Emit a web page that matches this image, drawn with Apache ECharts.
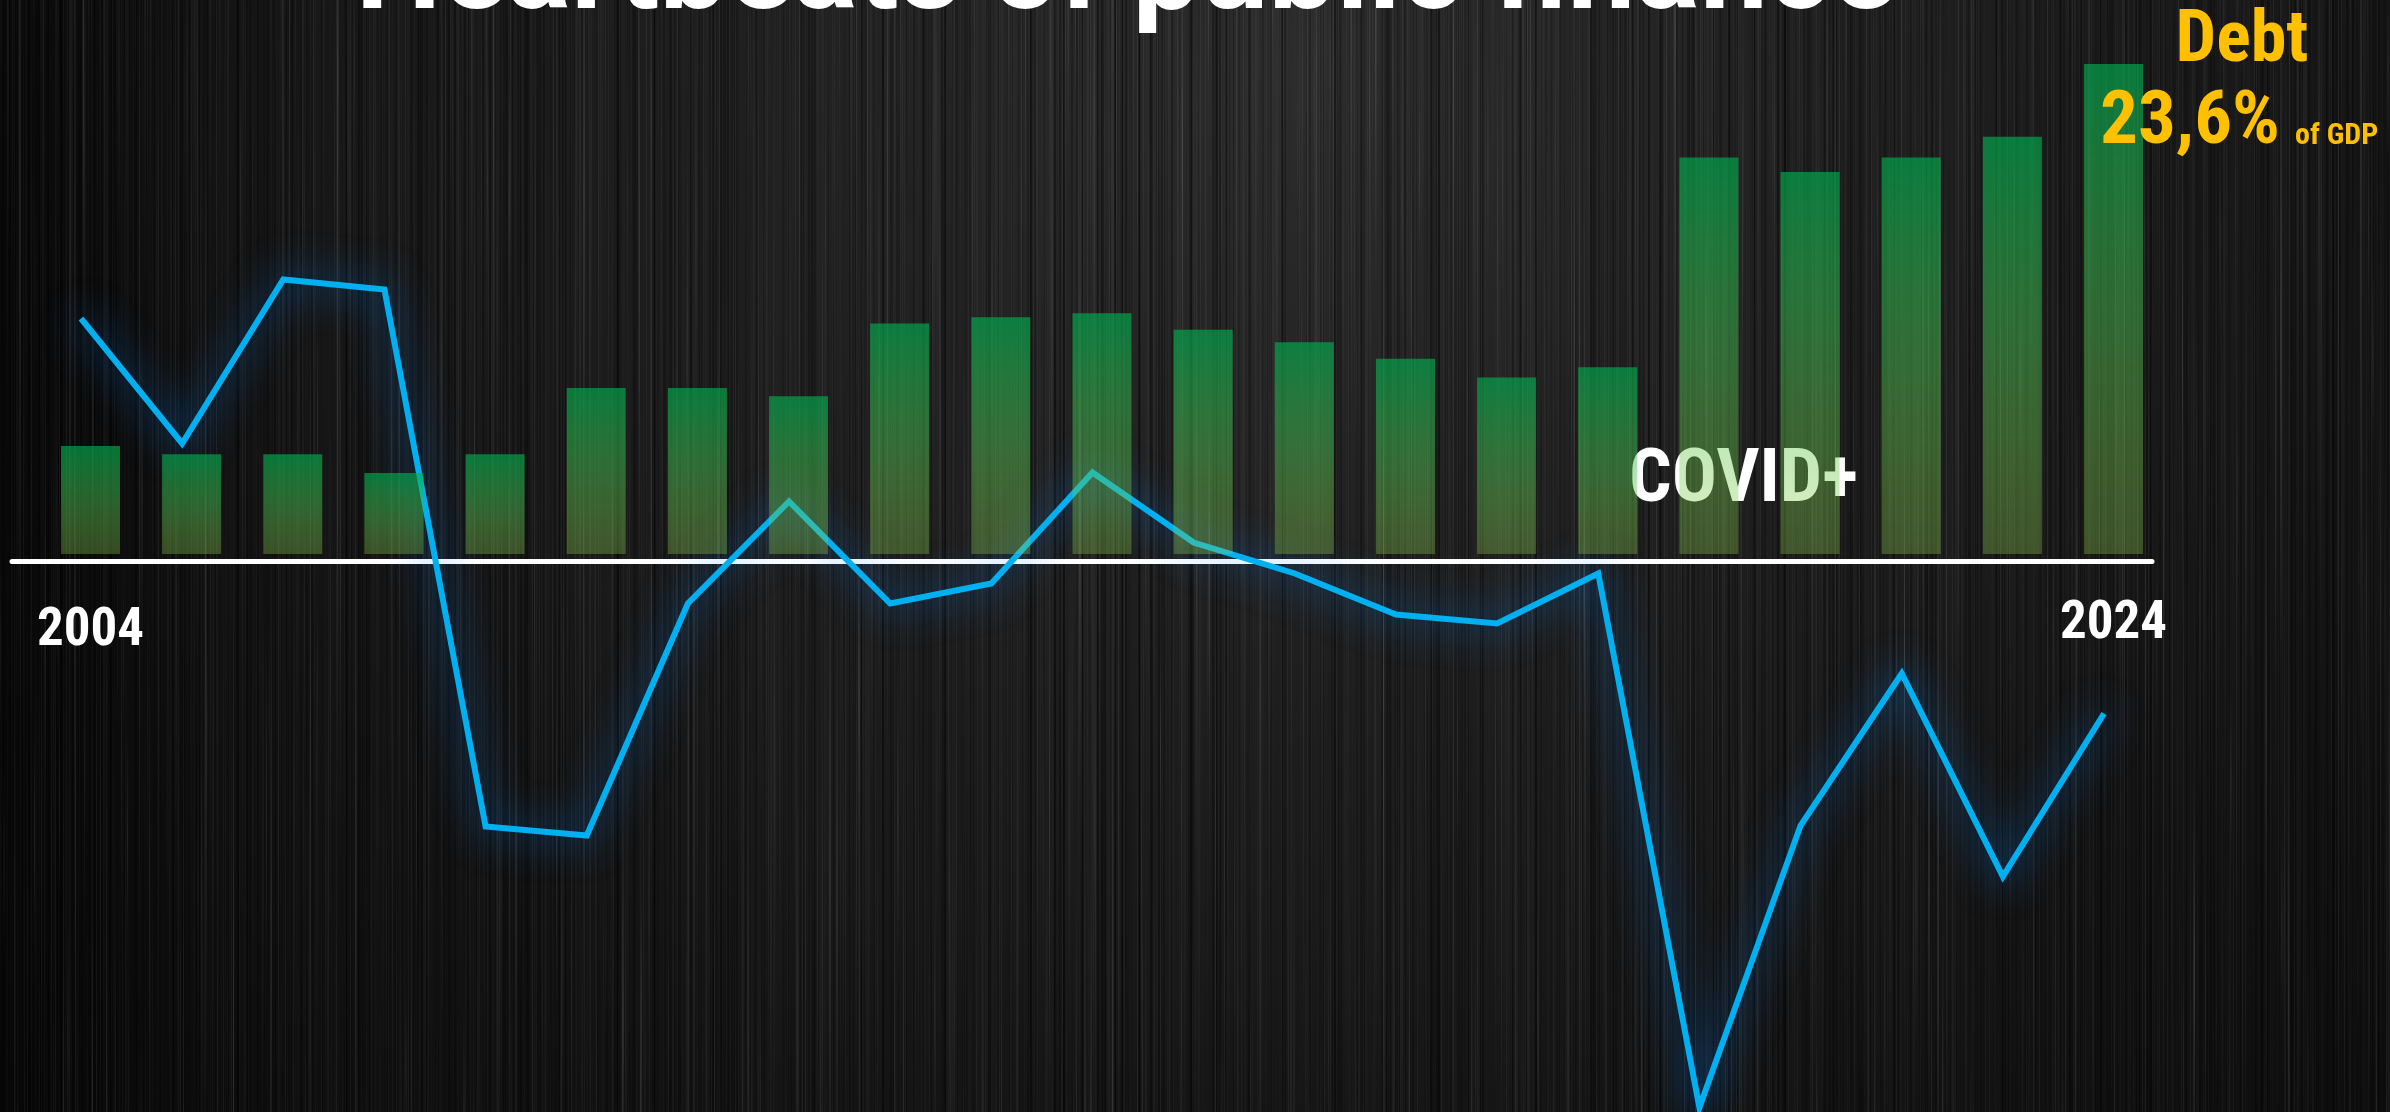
<!DOCTYPE html>
<html>
<head>
<meta charset="utf-8">
<script src="https://cdn.jsdelivr.net/npm/echarts@6/dist/echarts.min.js"></script>
<style>
html,body{margin:0;padding:0;background:#111;}
#chart{width:2390px;height:1112px;}
</style>
</head>
<body>
<div id="chart"></div>
<script>
// ---- data ----
const years = ['2004','2005','2006','2007','2008','2009','2010','2011','2012','2013','2014','2015','2016','2017','2018','2019','2020','2021','2022','2023','2024'];
const debt = [5.2, 4.8, 4.8, 3.9, 4.8, 8.0, 8.0, 7.6, 11.1, 11.4, 11.6, 10.8, 10.2, 9.4, 8.5, 9.0, 19.1, 18.4, 19.1, 20.1, 23.6];
const balance = [2.43, 1.18, 2.82, 2.72, -2.65, -2.74, -0.42, 0.60, -0.42, -0.22, 0.89, 0.19, -0.12, -0.53, -0.62, -0.12, -5.46, -2.64, -1.12, -3.15, -1.52];
const shownYears = ['2004', '2024'];
const titleText = 'Heartbeats of public finance';
const covidText = 'COVID+';
const debtTitle = 'Debt';
const debtUnit = 'of GDP';

// ---- background texture ----
function makeBg(w, h){
  const c = document.createElement('canvas'); c.width = w; c.height = h;
  const g = c.getContext('2d');
  g.fillStyle = '#0b0b0b'; g.fillRect(0, 0, w, h);
  const rg = g.createRadialGradient(w*0.55, h*0.05, 0, w*0.55, h*0.05, w*0.7);
  rg.addColorStop(0, 'rgba(50,50,50,0.85)');
  rg.addColorStop(0.55, 'rgba(34,34,34,0.6)');
  rg.addColorStop(1, 'rgba(20,20,20,0.1)');
  g.fillStyle = rg; g.fillRect(0, 0, w, h);
  const lg0 = g.createLinearGradient(0, 0, 260, 0);
  lg0.addColorStop(0, 'rgba(0,0,0,0.45)'); lg0.addColorStop(1, 'rgba(0,0,0,0)');
  g.fillStyle = lg0; g.fillRect(0, 0, 260, h);
  let s = 987654321;
  const rnd = () => { s = (s * 1103515245 + 12345) % 2147483648; return s / 2147483648; };
  for (let i = 0; i < 5500; i++){
    const x = Math.floor(rnd() * w);
    const len = h * (0.15 + rnd() * 1.0);
    const y0 = rnd() * (h + len) - len;
    const a = 0.015 + rnd() * rnd() * 0.13;
    const lw = rnd() < 0.8 ? 1 : 2;
    const v = 140 + Math.floor(rnd() * 80);
    const lg = g.createLinearGradient(0, y0, 0, y0 + len);
    lg.addColorStop(0, 'rgba(' + v + ',' + v + ',' + v + ',0)');
    lg.addColorStop(0.5, 'rgba(' + v + ',' + v + ',' + v + ',' + a + ')');
    lg.addColorStop(1, 'rgba(' + v + ',' + v + ',' + v + ',0)');
    g.fillStyle = lg; g.fillRect(x, y0, lw, len);
  }
  for (let i = 0; i < 900; i++){
    const x = Math.floor(rnd() * w);
    const a = 0.08 + rnd() * 0.2;
    g.fillStyle = 'rgba(0,0,0,' + a + ')';
    g.fillRect(x, 0, 1 + Math.floor(rnd()*2), h);
  }
  return c;
}

const W = 2390, H = 1112;
const chart = echarts.init(document.getElementById('chart'), null, {renderer: 'canvas', width: W, height: H});
const condFont = '"Roboto Condensed", Roboto';
const lastDebt = debt[debt.length - 1].toFixed(1).replace('.', ',') + '%';

const option = {
  animation: false,
  backgroundColor: '#111',
  grid: [
    {left: 39.9, width: 2124.2, top: 35, height: 519},
    {left: 30.4, width: 2124.2, top: 261.5, height: 850},
    {left: 12, width: 2140, top: 261.5, height: 850}
  ],
  xAxis: [
    {
      gridIndex: 0, type: 'category', data: years, boundaryGap: true,
      axisLine: {show: false}, axisTick: {show: false}, splitLine: {show: false},
      axisLabel: {
        interval: 0, margin: 45,
        formatter: v => v === shownYears[0] ? '{a|' + v + '}' : (v === shownYears[1] ? '{b|' + v + '}' : ''),
        rich: {
          a: {color: '#fff', fontFamily: condFont, fontWeight: 'bold', fontSize: 53, lineHeight: 65},
          b: {color: '#fff', fontFamily: condFont, fontWeight: 'bold', fontSize: 53, lineHeight: 52}
        }
      }
    },
    {gridIndex: 1, type: 'category', data: years, boundaryGap: true, show: false},
    {
      gridIndex: 2, type: 'category', data: years, boundaryGap: true,
      axisLine: {show: true, onZero: true, lineStyle: {color: '#ffffff', width: 5}},
      axisTick: {show: false}, axisLabel: {show: false}, splitLine: {show: false}
    }
  ],
  yAxis: [
    {gridIndex: 0, type: 'value', min: 0, max: 25, show: false},
    {gridIndex: 1, type: 'value', min: -5.5, max: 3, show: false},
    {gridIndex: 2, type: 'value', min: -5.5, max: 3, show: false}
  ],
  series: [
    {
      type: 'line', xAxisIndex: 1, yAxisIndex: 1, data: balance, z: 1,
      symbol: 'none', clip: false,
      lineStyle: {color: '#00B0F0', width: 6, shadowBlur: 40, shadowColor: 'rgba(0,130,255,0.9)', join: 'miter'}
    },
    {
      type: 'bar', xAxisIndex: 0, yAxisIndex: 0, data: debt, z: 4, barWidth: 59,
      itemStyle: {
        color: new echarts.graphic.LinearGradient(0, 0, 0, 1, [
          {offset: 0, color: 'rgba(0,176,80,0.64)'},
          {offset: 1, color: 'rgba(146,208,80,0.32)'}
        ])
      }
    }
  ],
  graphic: [
    {type: 'image', z: -100, silent: true, style: {image: makeBg(W, H), x: 0, y: 0, width: W, height: H}},
    {type: 'text', z: 0, x: 1126, y: -22.3, silent: true,
      style: {text: titleText, fill: '#fff', font: 'bold 121px Roboto', align: 'center', verticalAlign: 'middle'}},
    {type: 'text', z: 0, x: 1629, y: 482, silent: true,
      style: {text: covidText, fill: '#fff', font: 'bold 75px "Roboto Condensed", Roboto', align: 'left', verticalAlign: 'middle'}},
    {type: 'text', z: 10, x: 2242, y: 43, silent: true,
      style: {text: debtTitle, fill: '#FFC000', font: 'bold 72px "Roboto Condensed", Roboto', align: 'center', verticalAlign: 'middle'}},
    {type: 'text', z: 10, x: 2100, y: 124, silent: true,
      style: {text: lastDebt, fill: '#FFC000', font: 'bold 75px "Roboto Condensed", Roboto', align: 'left', verticalAlign: 'middle'}},
    {type: 'text', z: 10, x: 2295, y: 136, silent: true,
      style: {text: debtUnit, fill: '#FFC000', font: 'bold 30px "Roboto Condensed", Roboto', align: 'left', verticalAlign: 'middle'}}
  ]
};
chart.setOption(option);
</script>
</body>
</html>
